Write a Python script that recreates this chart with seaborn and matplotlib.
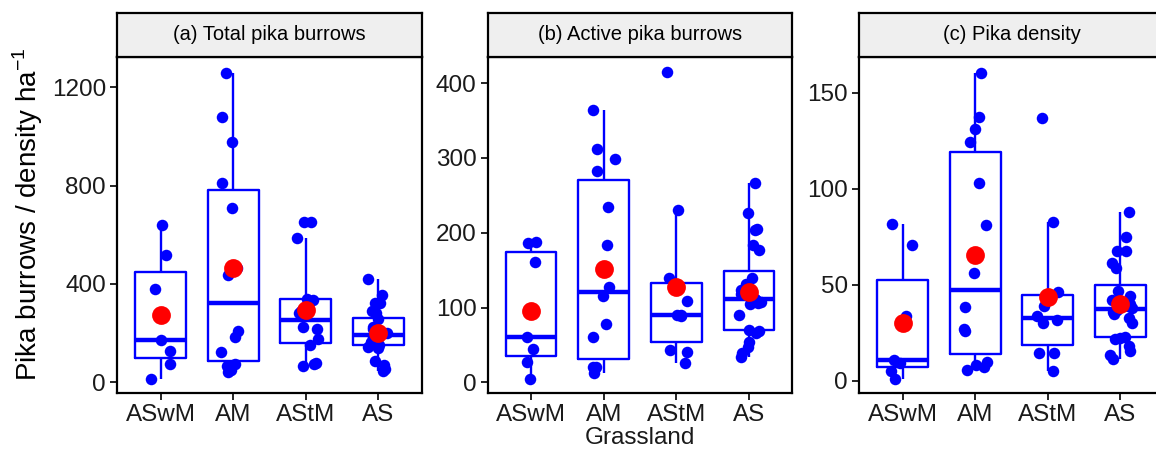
import numpy as np
import pandas as pd
import matplotlib
matplotlib.use("Agg")
import matplotlib.pyplot as plt
import seaborn as sns

# ---------------- data ----------------
grasslands = ["ASwM", "AM", "AStM", "AS"]

total_ASwM = [641, 517, 381, 172, 125, 75, 12]
total_AM = [1259, 1078, 977, 809, 708, 464, 436, 209, 183, 122, 74, 66, 50, 43]
total_AStM = [650, 650, 586, 338, 335, 290, 280, 224, 217, 175, 152, 80, 74, 66]
total_AS = [419, 355, 324, 321, 290, 281, 256, 225, 215, 205, 200, 198, 188, 180,
            170, 162, 159, 151, 145, 140, 85, 70, 55, 45]

active_ASwM = [187.7, 186.8, 160.5, 61, 44.5, 26.8, 4]
active_AM = [364, 312, 298, 282, 235, 184, 127, 115, 78, 61, 21, 20, 19, 12]
active_AStM = [415, 230, 140, 109, 90, 90, 89, 43, 41, 26]
active_AS = [267, 226, 205, 204, 184, 177, 140, 132, 125, 123.5, 118, 112, 110, 108,
             106, 105, 90, 70, 68, 65.5, 54, 47.6, 38.8, 34]

density_ASwM = [81.8, 70.8, 34, 10.9, 9.2, 4.9, 0.9]
density_AM = [160.6, 137.6, 131.4, 124.6, 103, 81.2, 56.1, 38.4, 26.9, 26.0, 10, 8.3, 7.5, 5.7]
density_AStM = [136.8, 83, 46.5, 39, 33.6, 31.7, 30, 14.7, 14.4, 5]
density_AS = [88.2, 74.8, 67.9, 67.4, 61.3, 58.7, 47, 44, 42, 40, 39, 38, 37, 36,
              35, 33, 30, 23, 22.6, 21.9, 18.2, 15.8, 13.5, 11.3]

panel_titles = ["(a) Total pika burrows", "(b) Active pika burrows", "(c) Pika density"]
panel_ticks = [[0, 400, 800, 1200], [0, 100, 200, 300, 400], [0, 50, 100, 150]]
panel_ylims = [(-44, 1323), (-14.3, 435), (-6.3, 168.7)]

panels = [
    [total_ASwM, total_AM, total_AStM, total_AS],
    [active_ASwM, active_AM, active_AStM, active_AS],
    [density_ASwM, density_AM, density_AStM, density_AS],
]

# ---------------- style ----------------
sns.set_style("white")
plt.rcParams["font.family"] = ["Liberation Sans", "DejaVu Sans"]
plt.rcParams["mathtext.fontset"] = "custom"
plt.rcParams["mathtext.rm"] = "Liberation Sans"

np.random.seed(3)

W, H = 1156, 461
fig = plt.figure(figsize=(W / 100, H / 100), dpi=100)

lefts = [117, 487.5, 859]
ax_w = 305
ax_top, ax_bot = 57, 393
strip_top = 13

blue = "#0000FF"

for i, (vals, title) in enumerate(zip(panels, panel_titles)):
    rows = []
    for g, v in zip(grasslands, vals):
        for x in v:
            rows.append((g, x))
    df = pd.DataFrame(rows, columns=["Grassland", "value"])

    ax = fig.add_axes([lefts[i] / W, 1 - ax_bot / H, ax_w / W, (ax_bot - ax_top) / H])
    sns.boxplot(data=df, x="Grassland", y="value", order=grasslands, ax=ax,
                fill=False, color=blue, linewidth=1.7, width=0.7,
                showfliers=False, showcaps=False,
                medianprops={"linewidth": 3.2, "color": blue},
                whiskerprops={"linewidth": 1.7, "color": blue},
                boxprops={"linewidth": 1.7, "color": blue})
    sns.stripplot(data=df, x="Grassland", y="value", order=grasslands, ax=ax,
                  color=blue, size=8.3, jitter=0.17, linewidth=0, zorder=3)
    sns.pointplot(data=df, x="Grassland", y="value", order=grasslands, ax=ax,
                  estimator="mean", errorbar=None, color="red",
                  linestyle="none", marker="o", markersize=11.5, zorder=5)

    ax.set_xlim(-0.6, 3.6)
    ax.set_ylim(*panel_ylims[i])
    ax.set_yticks(panel_ticks[i])
    ax.set_xlabel("")
    ax.set_ylabel("")
    for s in ax.spines.values():
        s.set_color("black")
        s.set_linewidth(1.6)
    ax.tick_params(axis="both", which="both", direction="out", length=5, width=1.2,
                   color="black", labelsize=17.5, labelcolor="#1a1a1a", pad=3,
                   left=True, bottom=True)
    ax.grid(False)

    # strip header
    sax = fig.add_axes([lefts[i] / W, 1 - ax_top / H, ax_w / W, (ax_top - strip_top) / H])
    sax.set_facecolor("#EFEFEF")
    sax.set_xticks([])
    sax.set_yticks([])
    for s in sax.spines.values():
        s.set_color("black")
        s.set_linewidth(1.6)
    sax.text(0.5, 0.5, title, transform=sax.transAxes, ha="center", va="center",
             fontsize=14.5, color="black")

    if i == 1:
        ax.set_xlabel("Grassland", fontsize=17.5, color="#1a1a1a", labelpad=1)

fig.text(28 / W, 1 - 214 / H, "Pika burrows / density ha$^{\\mathregular{-1}}$",
         rotation=90, ha="center", va="center", fontsize=20, color="black")

fig.savefig("out.png", dpi=100, facecolor="white")
